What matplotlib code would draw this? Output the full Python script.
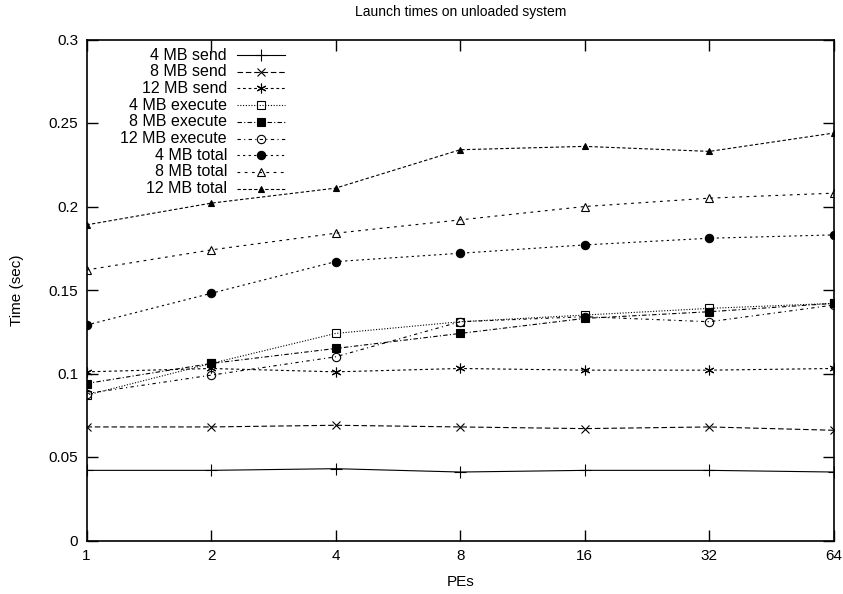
import matplotlib
matplotlib.use("Agg")
import matplotlib.pyplot as plt
from matplotlib.ticker import FixedLocator, FixedFormatter, NullLocator

plt.rcParams['font.family'] = ['Liberation Sans', 'DejaVu Sans']

# dades llegides del gràfic
pes = [1, 2, 4, 8, 16, 32, 64]
send_4 = [0.042, 0.042, 0.043, 0.041, 0.042, 0.042, 0.041]
send_8 = [0.068, 0.068, 0.069, 0.068, 0.067, 0.068, 0.066]
send_12 = [0.101, 0.103, 0.101, 0.103, 0.102, 0.102, 0.103]
exec_4 = [0.087, 0.106, 0.124, 0.131, 0.135, 0.139, 0.142]
exec_8 = [0.094, 0.106, 0.115, 0.124, 0.133, 0.137, 0.142]
exec_12 = [0.088, 0.099, 0.110, 0.131, 0.134, 0.131, 0.141]
total_4 = [0.129, 0.148, 0.167, 0.172, 0.177, 0.181, 0.183]
total_8 = [0.162, 0.174, 0.184, 0.192, 0.200, 0.205, 0.208]
total_12 = [0.189, 0.202, 0.211, 0.234, 0.236, 0.233, 0.244]

labels = ["4 MB send", "8 MB send", "12 MB send",
          "4 MB execute", "8 MB execute", "12 MB execute",
          "4 MB total", "8 MB total", "12 MB total"]
series = [send_4, send_8, send_12, exec_4, exec_8, exec_12,
          total_4, total_8, total_12]

# estils tipus gnuplot
dashes = [(None), (5, 2.5), (2.5, 2.5), (1, 1.5), (4, 2, 1, 2),
          (3, 3, 1, 3), (2, 3, 2, 3), (2.5, 4), (3, 2)]
markers = ['+', 'x', (6, 2, 0), 's', 's', 'o', 'o', '^', '^']
fills = ['none', 'none', 'none', 'none', 'black', 'none', 'black', 'none', 'black']
msizes = [8, 6, 7, 6, 6, 6, 6, 6, 5]

fig = plt.figure(figsize=(8.43, 5.94), dpi=100)
ax = fig.add_axes([86.5/843, 53.5/594, 747.5/843, 501/594])

for i in range(len(series)):
    kw = dict(color='black', lw=0.8, marker=markers[i], ms=msizes[i],
              mfc=fills[i], mec='black', mew=0.8)
    if dashes[i] is None:
        kw['ls'] = '-'
    else:
        kw['dashes'] = dashes[i]
    ax.plot(pes, series[i], **kw)
    # llegenda feta a mà
    yl = 1 - (15.5 + i * 16.7) / 501
    ax.text(0.188, yl, labels[i], transform=ax.transAxes, ha='right',
            va='center', fontsize=11.5)
    ax.plot([0.201, 0.2655], [yl, yl], transform=ax.transAxes, **kw,
            markevery=[])
    ax.plot([0.2334], [yl], transform=ax.transAxes, ls='none',
            marker=markers[i], ms=msizes[i], mfc=fills[i], mec='black',
            mew=0.8)

ax.set_xscale('log', base=2)
ax.set_xlim(1, 64)
ax.xaxis.set_major_locator(FixedLocator(pes))
ax.xaxis.set_major_formatter(FixedFormatter([str(p) for p in pes]))
ax.xaxis.set_minor_locator(NullLocator())
ax.set_ylim(0, 0.3)
yt = [0, 0.05, 0.1, 0.15, 0.2, 0.25, 0.3]
ax.set_yticks(yt)
ax.set_yticklabels(['0', '0.05', '0.1', '0.15', '0.2', '0.25', '0.3'])
ax.tick_params(direction='in', length=8, width=1, top=True, right=True,
               labelsize=11, pad=6)
for s in ax.spines.values():
    s.set_linewidth(1.2)

ax.set_title("Launch times on unloaded system", fontsize=10, pad=17)
ax.set_xlabel("PEs", fontsize=11, labelpad=9)
ax.set_ylabel("Time (sec)", fontsize=11, labelpad=18)

fig.savefig("out.png", dpi=100)
